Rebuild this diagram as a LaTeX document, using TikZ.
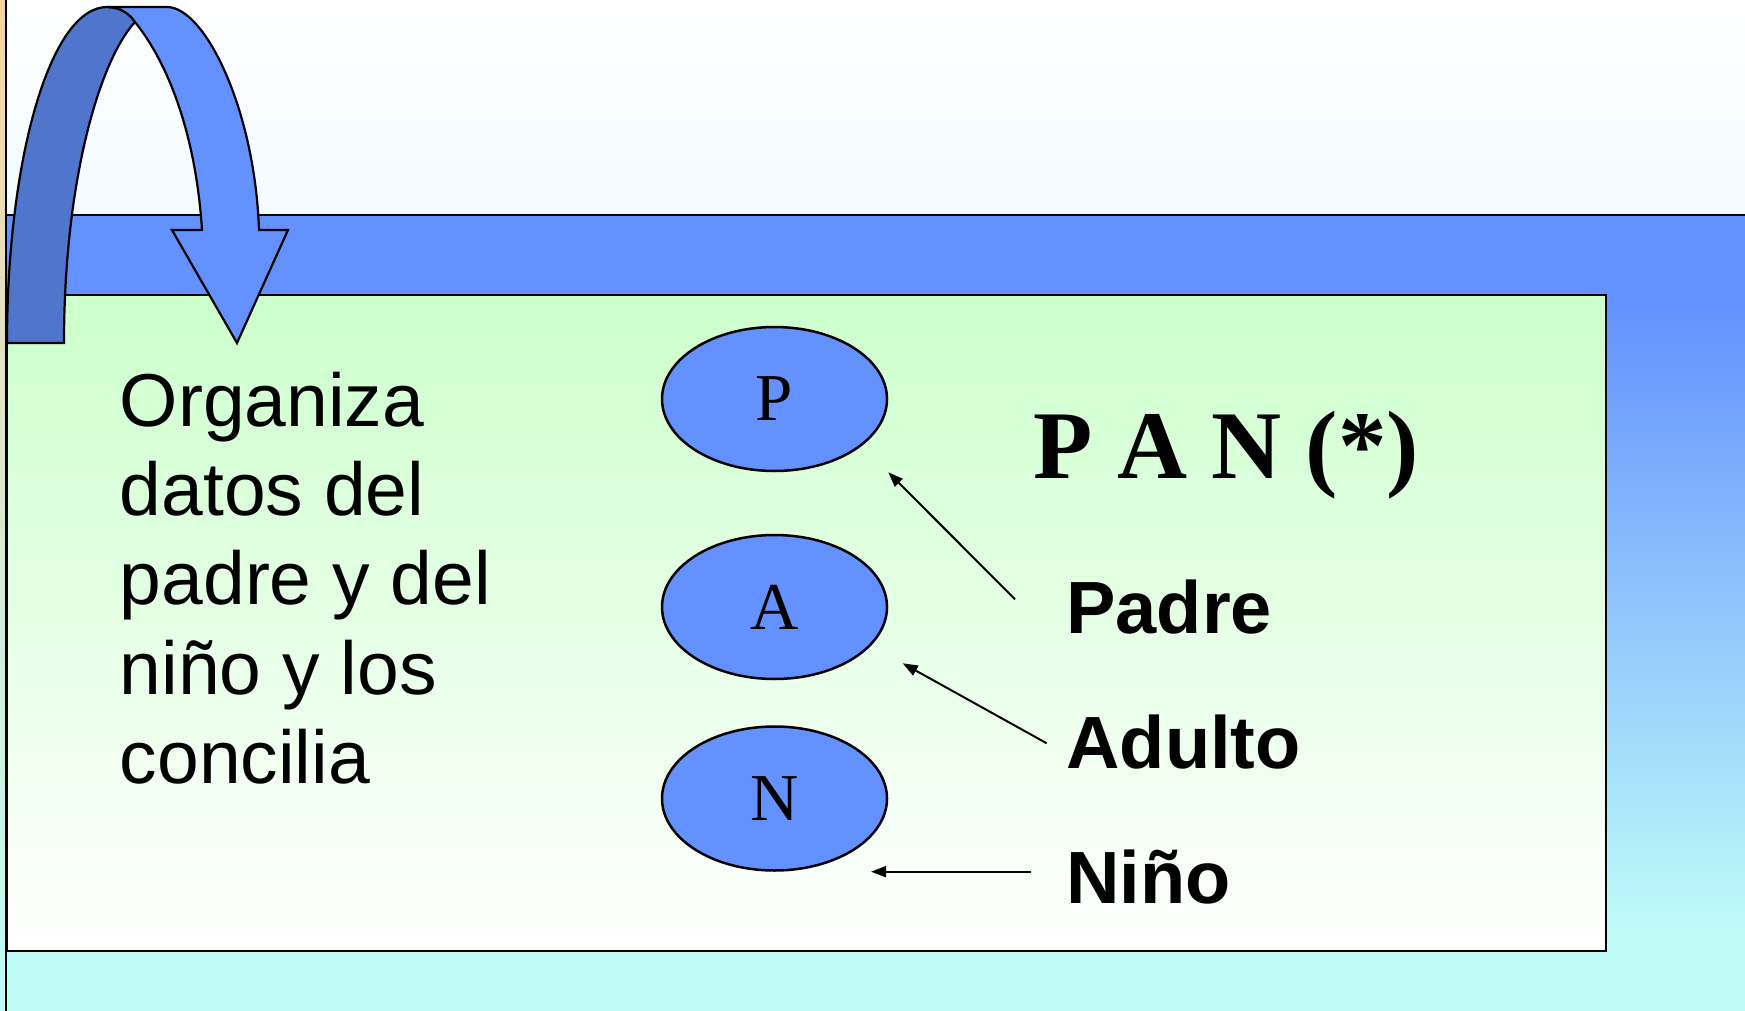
\documentclass[tikz,border=0pt]{standalone}
\usepackage{fontspec}
\newfontfamily\lsans{Liberation Sans}
\newfontfamily\lserif{Liberation Serif}
\usetikzlibrary{arrows.meta,calc,shapes.geometric}
\definecolor{bandblue}{HTML}{6391FF}
\definecolor{backblue}{HTML}{4F76CC}
\definecolor{cyanbg}{HTML}{BFFCF8}
\definecolor{greentop}{HTML}{CCFFCC}
\definecolor{tanbg}{HTML}{F5D5A5}
\definecolor{topsky}{HTML}{F2FBFF}
\begin{document}
\begin{tikzpicture}[x=0.5pt,y=-0.5pt,
  outline/.style={draw=black,line width=1.1pt,line join=miter},
  oval/.style={ellipse,draw=black,line width=1.25pt,fill=bandblue,minimum width=112.5pt,minimum height=72pt,inner sep=0pt,font=\lserif\fontsize{33.5}{33.5}\selectfont},
  lbl/.style={anchor=base west,inner sep=0pt,font=\lsans\bfseries\fontsize{37}{40}\selectfont},
  pointer/.style={-{Triangle[length=7.5pt,width=5.5pt]},line width=1pt}
]
\useasboundingbox (0,0) rectangle (1745,1011);
% backgrounds
\shade[top color=tanbg,bottom color=cyanbg] (0,0) rectangle (7,1011);
\shade[top color=white,bottom color=topsky] (7,0) rectangle (1745,216);
\fill[bandblue] (7,215) rectangle (1745,301);
\shade[top color=bandblue,bottom color=cyanbg] (7,300) rectangle (1745,931);
\fill[cyanbg] (7,930) rectangle (1745,1011);
\draw[outline] (7,215) -- (1745,215);
% inner panel
\shadedraw[top color=greentop,bottom color=white,outline] (7,295) rectangle (1606,951);
% curved arrow: back part
\filldraw[fill=backblue,outline] (7,343) .. controls (7,160) and (50,7) .. (107,7)
  .. controls (120,7) and (130,14) .. (135,22)
  .. controls (100,60) and (64,180) .. (64,343) -- cycle;
% curved arrow: front part
\filldraw[fill=bandblue,outline] (107,7) -- (167,7) .. controls (205,7) and (255,110) .. (259,230)
  -- (288,230) -- (237,343) -- (172,230) -- (202,230)
  .. controls (197,150) and (175,72) .. (135,22)
  .. controls (130,14) and (120,7) .. (107,7) -- cycle;
% left border line
\draw[line width=1.1pt] (6,0) -- (6,1011);
% text block (baseline of node = last line)
\node[anchor=base west,inner sep=0pt,align=left,font=\lsans\fontsize{37.5}{44.6}\selectfont] (txt) at (119.5,783.3)
  {Organiza\\datos del\\padre y del\\niño y los\\concilia};
% ovals
\node[oval] (P) at (774.5,399) {P};
\node[oval] (A) at (774.5,607) {A};
\node[oval] (N) at (774.5,798.5) {N};
% title
\node[anchor=base west,inner sep=0pt,font=\lserif\bfseries\fontsize{48.5}{50}\selectfont] (pan) at (1033.5,478.3) {P A N (*)};
% labels
\node[lbl] (padre) at (1066,633) {Padre};
\node[lbl] (adulto) at (1066,768.3) {Adulto};
\node[lbl] (nino) at (1066,903.3) {Niño};
% pointers
\coordinate (pS) at (1015,599.3);
\coordinate (pT) at (P.east |- P.south);
\coordinate (aS) at (1046.7,743.3);
\coordinate (aT) at (902.7,663.3);
\coordinate (nS) at (1030.7,871.7);
\coordinate (nT) at (871,871.7);
\draw[pointer] (pS) -- (pT);
\draw[pointer] (aS) -- (aT);
\draw[pointer] (nS) -- (nT);
\end{tikzpicture}
\end{document}
